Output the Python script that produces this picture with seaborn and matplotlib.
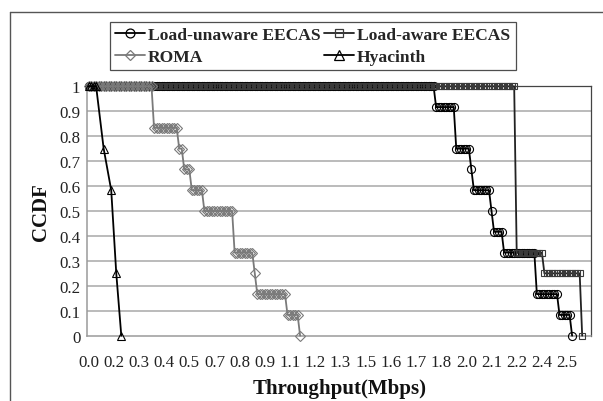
import numpy as np
import pandas as pd
import matplotlib
matplotlib.use("Agg")
import matplotlib.pyplot as plt
from matplotlib.lines import Line2D
import seaborn as sns

# ---------------- data ----------------
n_categories = 200
tick_labels = ["0.0", "0.2", "0.3", "0.4", "0.5", "0.7", "0.8", "0.9", "1.1", "1.2",
               "1.3", "1.5", "1.6", "1.7", "1.8", "2.0", "2.1", "2.2", "2.4", "2.5"]
label_every = 10

# CCDF levels and the category runs (first, last) over which each level holds
unaware_levels = [1.0, 0.9167, 0.75, 0.6667, 0.5833, 0.5, 0.4167, 0.3333, 0.1667, 0.0833, 0.0]
unaware_runs = [(0, 137), (138, 145), (146, 151), (152, 152), (153, 159), (160, 160),
                (161, 164), (165, 177), (178, 186), (187, 191), (192, 192)]

aware_levels = [1.0, 0.3333, 0.25, 0.0]
aware_runs = [(0, 169), (170, 180), (181, 195), (196, 196)]

roma_levels = [1.0, 0.8333, 0.75, 0.6667, 0.5833, 0.5, 0.3333, 0.25, 0.1667, 0.0833, 0.0]
roma_runs = [(0, 25), (26, 35), (36, 37), (38, 40), (41, 45), (46, 57), (58, 65),
             (66, 66), (67, 78), (79, 83), (84, 84)]

hyacinth_levels = [1.0, 0.75, 0.5833, 0.25, 0.0]
hyacinth_runs = [(0, 3), (6, 6), (9, 9), (11, 11), (13, 13)]

series_names = ["Load-unaware EECAS", "Load-aware EECAS", "ROMA", "Hyacinth"]


def expand(levels, runs):
    xs, ys = [], []
    for lv, (a, b) in zip(levels, runs):
        for k in range(a, b + 1):
            xs.append(k)
            ys.append(lv)
    return xs, ys


frames = []
for name, lv, rn in zip(series_names,
                        [unaware_levels, aware_levels, roma_levels, hyacinth_levels],
                        [unaware_runs, aware_runs, roma_runs, hyacinth_runs]):
    xs, ys = expand(lv, rn)
    frames.append(pd.DataFrame({"cat": xs, "ccdf": ys, "series": name}))
df = pd.concat(frames, ignore_index=True)

# ---------------- styling ----------------
sns.set_theme(style="white")
plt.rcParams["font.family"] = ["Liberation Serif", "DejaVu Serif"]

W, H = 603, 402
fig = plt.figure(figsize=(W / 100, H / 100), dpi=100)
ax_left, ax_right, ax_top, ax_bot = 87.3, 591, 87.3, 336.7
ax = fig.add_axes([ax_left / W, 1 - ax_bot / H, (ax_right - ax_left) / W, (ax_bot - ax_top) / H])

styles = {
    "Load-unaware EECAS": dict(color="black", marker="o", ms=5.8, mec="black"),
    "Load-aware EECAS": dict(color="#222222", marker="s", ms=5.0, mec="#3a3a3a"),
    "ROMA": dict(color="#7a7a7a", marker="D", ms=5.0, mec="#7a7a7a"),
    "Hyacinth": dict(color="black", marker="^", ms=6.2, mec="black"),
}

handles = {}
for name in series_names:
    st = styles[name]
    sub = df[df["series"] == name]
    sns.lineplot(data=sub, x="cat", y="ccdf", ax=ax, sort=False, estimator=None,
                 color=st["color"], marker=st["marker"], markersize=st["ms"],
                 markerfacecolor="none", markeredgecolor=st["mec"], markeredgewidth=0.8,
                 linewidth=1.3, clip_on=False, legend=False, zorder=3)
    handles[name] = Line2D([], [], color=st["color"], marker=st["marker"], markersize=st["ms"] + 0.6,
                           markerfacecolor="none", markeredgecolor=st["mec"], markeredgewidth=0.9,
                           linewidth=1.3)

ax.set_xlim(-0.5, n_categories - 0.5)
ax.set_ylim(0, 1)

# gridlines
yt = np.round(np.arange(0, 1.01, 0.1), 1)
ax.set_yticks(yt)
ax.set_yticklabels(["0" if v == 0 else ("1" if v == 1 else f"{v:.1f}") for v in yt])
for v in yt[1:]:
    ax.axhline(v, color="#a8a8a8", lw=1.1, zorder=1)

# x: labels at every 10th category, small ticks at every category boundary
ax.set_xticks(np.arange(0, len(tick_labels) * label_every, label_every))
ax.set_xticklabels(tick_labels)
ax.set_xticks(np.arange(-0.5, n_categories, 1.0), minor=True)
ax.tick_params(axis="x", which="major", length=0, pad=13, labelsize=12.2, colors="#222222")
ax.tick_params(axis="x", which="minor", length=3, width=0.6, color="#9a9a9a", direction="out")
ax.tick_params(axis="y", which="major", length=3.5, width=0.8, color="#a8a8a8", pad=1.5,
               labelsize=12.2, colors="#222222")
ax.tick_params(axis="y", colors="#a8a8a8", labelcolor="#222222")

for s in ["left", "bottom"]:
    ax.spines[s].set_color("#9a9a9a")
    ax.spines[s].set_linewidth(1.1)
for s in ["top", "right"]:
    ax.spines[s].set_color("#444444")
    ax.spines[s].set_linewidth(0.9)

ax.set_xlabel("Throughput(Mbps)", fontsize=15, fontweight="bold", labelpad=6, color="#111111")
ax.set_ylabel("CCDF", fontsize=15, fontweight="bold", labelpad=6, color="#111111")

order = ["Load-unaware EECAS", "ROMA", "Load-aware EECAS", "Hyacinth"]
leg = fig.legend([handles[n] for n in order], order, ncol=2, loc="upper left",
                 bbox_to_anchor=(110 / W, 1 - 23 / H), frameon=True, fancybox=False,
                 prop={"weight": "bold", "size": 12.6}, handlelength=1.7, handletextpad=0.18,
                 columnspacing=0.2, labelspacing=0.3, borderpad=0.3, borderaxespad=0)
leg.get_frame().set_edgecolor("#222222")
leg.get_frame().set_linewidth(0.9)

# outer chart frame (left and top edges visible)
fig.add_artist(Line2D([9.7 / W, 9.7 / W], [0, 1 - 12.8 / H], transform=fig.transFigure, color="#555555", lw=1.0))
fig.add_artist(Line2D([9.7 / W, 1], [1 - 12.8 / H, 1 - 12.8 / H], transform=fig.transFigure, color="#555555", lw=1.0))

fig.savefig("out.png", dpi=100, facecolor="white")
